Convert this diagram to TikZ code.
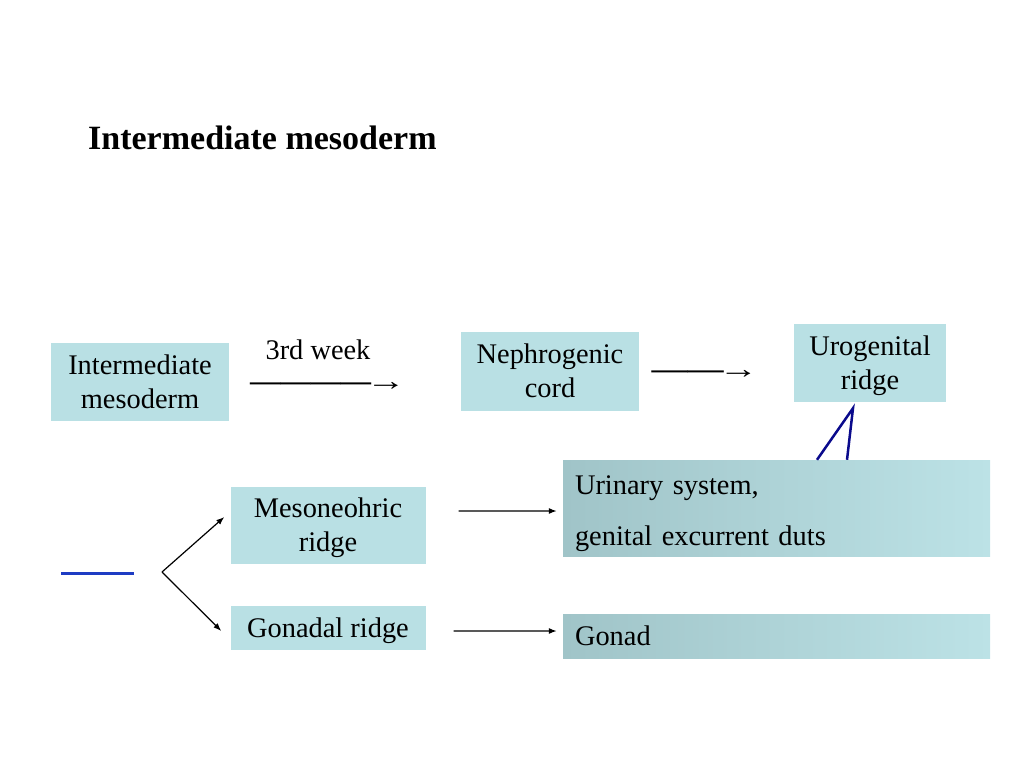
\documentclass[tikz,border=0pt]{standalone}
\usepackage{fontspec}
\setmainfont{Liberation Serif}
\usetikzlibrary{arrows.meta}
\definecolor{ridgeblue}{RGB}{185,224,228}
\definecolor{shadeleft}{RGB}{160,196,200}
\definecolor{shaderight}{RGB}{188,226,230}
\definecolor{linkblue}{RGB}{30,60,195}
\definecolor{navyline}{RGB}{10,10,140}
\def\bodysize{\fontsize{28.4bp}{34bp}\selectfont}
\def\titlesize{\fontsize{34bp}{40bp}\selectfont}
\tikzset{
	stagebox/.style={fill=ridgeblue, inner sep=0pt, align=center, text depth=0pt, font=\bodysize},
	fatebox/.style={left color=shadeleft, right color=shaderight, inner xsep=12bp, inner ysep=0pt, text width=403bp, align=left, font=\bodysize},
	devarrow/.style={-{Latex[length=8bp,width=6bp]}, line width=1.2bp},
	wordarrow/.style={inner sep=0pt, font=\bodysize},
}

\begin{document}
\begin{tikzpicture}[x=1bp, y=-1bp]
				\useasboundingbox (0,0) rectangle (1024,768);
				
				\node[anchor=base west, inner sep=0pt, font=\bfseries\titlesize] (title) at (88,149) {Intermediate mesoderm};
				
				\node[stagebox, minimum width=178bp, minimum height=78bp] (im) at (140,382) {Intermediate\\mesoderm};
				\node[stagebox, minimum width=178bp, minimum height=79bp] (cord) at (550,371) {Nephrogenic\\cord};
				\node[stagebox, minimum width=152bp, minimum height=78bp] (urogen) at (870,363) {Urogenital\\ridge};
				\node[stagebox, minimum width=195bp, minimum height=77bp] (meso) at (328,525) {Mesoneohric\\ridge};
				\node[stagebox, minimum width=195bp, minimum height=44bp] (gonadal) at (328,628) {Gonadal ridge};
				
				\node[fatebox, minimum height=96bp, text depth=45bp] (urinary) at (776.5,508) {Urinary system,\\[17bp]genital excurrent duts};
				\node[fatebox, minimum height=44bp, text depth=0pt] (gonad) at (776.5,636) {Gonad};
				
				\node[wordarrow] (week) at (318,350) {3rd week};
				\node[wordarrow] (imarrow) at (328,386) {\scalebox{1.065}[1]{\bfseries ————}\kern-5bp\scalebox{1.4}[1]{→}};
				\node[wordarrow] (cordarrow) at (705,374) {\scalebox{1.27}[1]{\bfseries ——}\kern-5bp\scalebox{1.4}[1]{→}};
				
				\draw[linkblue, line width=3bp] (61,573) -- (134,573);
				\coordinate (fork) at (162,572);
				\draw[devarrow] (fork) -- ([xshift=-6bp,yshift=8bp]meso.west);
				\draw[devarrow] (fork) -- ([xshift=-9bp,yshift=-3bp]gonadal.west);
				\draw[devarrow] ([xshift=33bp,yshift=14bp]meso.east) -- ([xshift=-6bp,yshift=-3bp]urinary.west);
				\draw[devarrow] ([xshift=28bp,yshift=-3bp]gonadal.east) -- ([xshift=-6bp,yshift=5bp]gonad.west);
				
				\draw[navyline, line width=2.5bp] ([xshift=40.5bp]urinary.north) -- ([xshift=-17bp,yshift=-6bp]urogen.south) -- ([xshift=70.5bp]urinary.north);
\end{tikzpicture}
\end{document}
